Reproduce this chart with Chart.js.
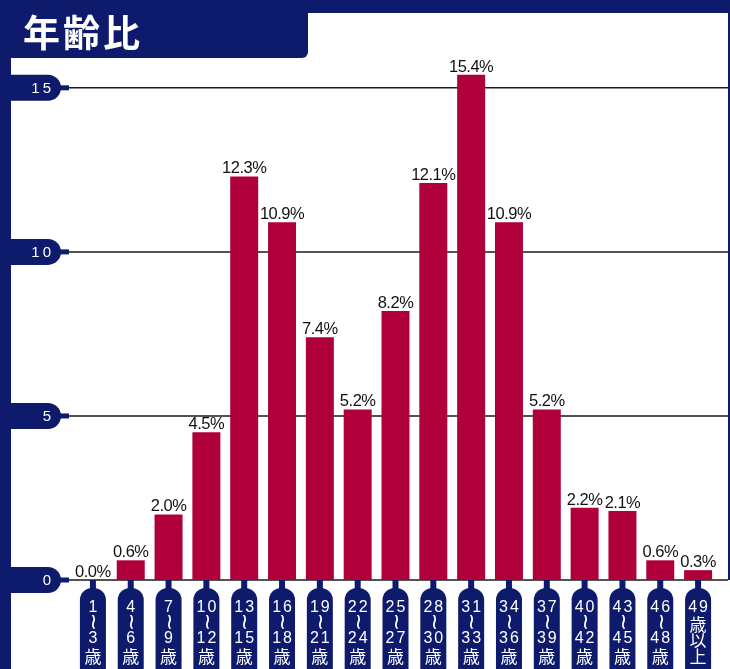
<!DOCTYPE html>
<html lang="ja">
<head>
<meta charset="utf-8">
<title>年齢比</title>
<script src="https://cdn.jsdelivr.net/npm/chart.js"></script>
<style>
    html, body { margin: 0; padding: 0; background: #ffffff; }
    canvas { display: block; }
</style>
</head>
<body>
<canvas id="ageChart" width="730" height="669"></canvas>
<script>
// ===================================
// 年齢比 - age distribution bar chart
// ===================================

const chartTitle = '年齢比';

// category tags (drawn as vertical text, one entry per line)
const categoryLabels = [
    ['1', '~', '3', '歳'],
    ['4', '~', '6', '歳'],
    ['7', '~', '9', '歳'],
    ['10', '~', '12', '歳'],
    ['13', '~', '15', '歳'],
    ['16', '~', '18', '歳'],
    ['19', '~', '21', '歳'],
    ['22', '~', '24', '歳'],
    ['25', '~', '27', '歳'],
    ['28', '~', '30', '歳'],
    ['31', '~', '33', '歳'],
    ['34', '~', '36', '歳'],
    ['37', '~', '39', '歳'],
    ['40', '~', '42', '歳'],
    ['43', '~', '45', '歳'],
    ['46', '~', '48', '歳'],
    ['49', '歳', '以', '上']
];

// percentage per age group
const percentValues = [0.0, 0.6, 2.0, 4.5, 12.3, 10.9, 7.4, 5.2, 8.2, 12.1, 15.4, 10.9, 5.2, 2.2, 2.1, 0.6, 0.3];

// y axis tick labels
const yTicks = [0, 5, 10, 15];

const NAVY = '#0e1a6c';
const BAR_RED = '#b0003c';

// Draw the frame, title, y pills, grid lines and category tags
const framePlugin = {
    id: 'frame',
    beforeDatasetsDraw(chart) {
        const ctx = chart.ctx;
        const yScale = chart.scales.y;
        const xScale = chart.scales.x;
        const W = chart.width;
        const H = chart.height;

        ctx.save();

        // right border
        ctx.fillStyle = NAVY;
        ctx.fillRect(W - 2, 0, 2, yScale.getPixelForValue(0));

        // top band + left band
        ctx.fillRect(0, 0, W, 13);
        ctx.fillRect(0, 0, 11, H);

        // title box
        ctx.beginPath();
        ctx.roundRect(0, 0, 308, 58, [8, 0, 6, 0]);
        ctx.fill();

        ctx.fillStyle = '#ffffff';
        ctx.font = 'bold 37px "Noto Sans CJK JP", sans-serif';
        ctx.textAlign = 'left';
        ctx.textBaseline = 'alphabetic';
        ctx.letterSpacing = '3px';
        ctx.fillText(chartTitle, 23, 47);
        ctx.letterSpacing = '0px';

        // grid lines
        ctx.strokeStyle = '#1a1a1a';
        ctx.lineWidth = 1.5;
        yTicks.forEach(v => {
            const y = yScale.getPixelForValue(v);
            ctx.beginPath();
            ctx.moveTo(66, y);
            ctx.lineTo(W - 2, y);
            ctx.stroke();
        });

        // y pills
        yTicks.forEach(v => {
            const y = yScale.getPixelForValue(v);
            ctx.fillStyle = NAVY;
            ctx.beginPath();
            ctx.roundRect(0, y - 13, 61, 26, [0, 13, 13, 0]);
            ctx.fill();
            ctx.fillRect(58, y - 2.5, 11, 5);

            ctx.fillStyle = '#ffffff';
            ctx.font = '15px "Liberation Sans", Arial, sans-serif';
            ctx.textAlign = 'right';
            ctx.textBaseline = 'middle';
            ctx.letterSpacing = '3px';
            ctx.fillText(String(v), 54, y + 1);
            ctx.letterSpacing = '0px';
        });

        // category tags
        const baseY = yScale.getPixelForValue(0);
        categoryLabels.forEach((lines, i) => {
            const cx = xScale.getPixelForValue(i);
            ctx.fillStyle = NAVY;
            ctx.fillRect(cx - 3, baseY, 6, 12);
            ctx.beginPath();
            ctx.roundRect(cx - 13, baseY + 8, 26, H - baseY, [12, 12, 0, 0]);
            ctx.fill();

            ctx.fillStyle = '#ffffff';
            ctx.textAlign = 'center';
            ctx.textBaseline = 'middle';
            const isRange = lines[1] === '~';
            const rows = isRange ? [608, 622, 639, 657] : [608, 625, 641, 657];
            lines.forEach((txt, j) => {
                const y = rows[j];
                if (txt === '~') {
                    ctx.save();
                    ctx.translate(cx, y);
                    ctx.rotate(Math.PI / 2);
                    ctx.font = '22px "DejaVu Sans", sans-serif';
                    ctx.fillText('~', 0, 0);
                    ctx.restore();
                } else if (/^[0-9]+$/.test(txt)) {
                    ctx.font = '16px "Liberation Sans", Arial, sans-serif';
                    ctx.letterSpacing = '2px';
                    ctx.fillText(txt, cx + 1, y);
                    ctx.letterSpacing = '0px';
                } else {
                    ctx.font = '17px "Noto Sans CJK JP", sans-serif';
                    ctx.fillText(txt, cx, y);
                }
            });
        });

        ctx.restore();
    }
};

// Percent labels above each bar
const valueLabelPlugin = {
    id: 'valueLabels',
    afterDatasetsDraw(chart) {
        const ctx = chart.ctx;
        const meta = chart.getDatasetMeta(0);
        ctx.save();
        ctx.fillStyle = '#111111';
        ctx.font = '16.5px "Liberation Sans", Arial, sans-serif';
        ctx.textAlign = 'center';
        ctx.textBaseline = 'alphabetic';
        ctx.letterSpacing = '-0.5px';
        meta.data.forEach((bar, i) => {
            ctx.fillText(percentValues[i].toFixed(1) + '%', bar.x, bar.y - 3);
        });
        ctx.restore();
    }
};

const ageChart = new Chart(document.getElementById('ageChart'), {
    type: 'bar',
    data: {
        labels: categoryLabels,
        datasets: [{
            data: percentValues,
            backgroundColor: BAR_RED,
            borderWidth: 0,
            barPercentage: 0.74,
            categoryPercentage: 1.0
        }]
    },
    options: {
        responsive: false,
        animation: false,
        layout: {
            padding: { left: 74, right: 13, top: 55, bottom: 89 }
        },
        plugins: {
            legend: { display: false },
            tooltip: { enabled: false }
        },
        scales: {
            x: { display: false },
            y: { display: false, min: 0, max: 16 }
        }
    },
    plugins: [framePlugin, valueLabelPlugin]
});
</script>
</body>
</html>
